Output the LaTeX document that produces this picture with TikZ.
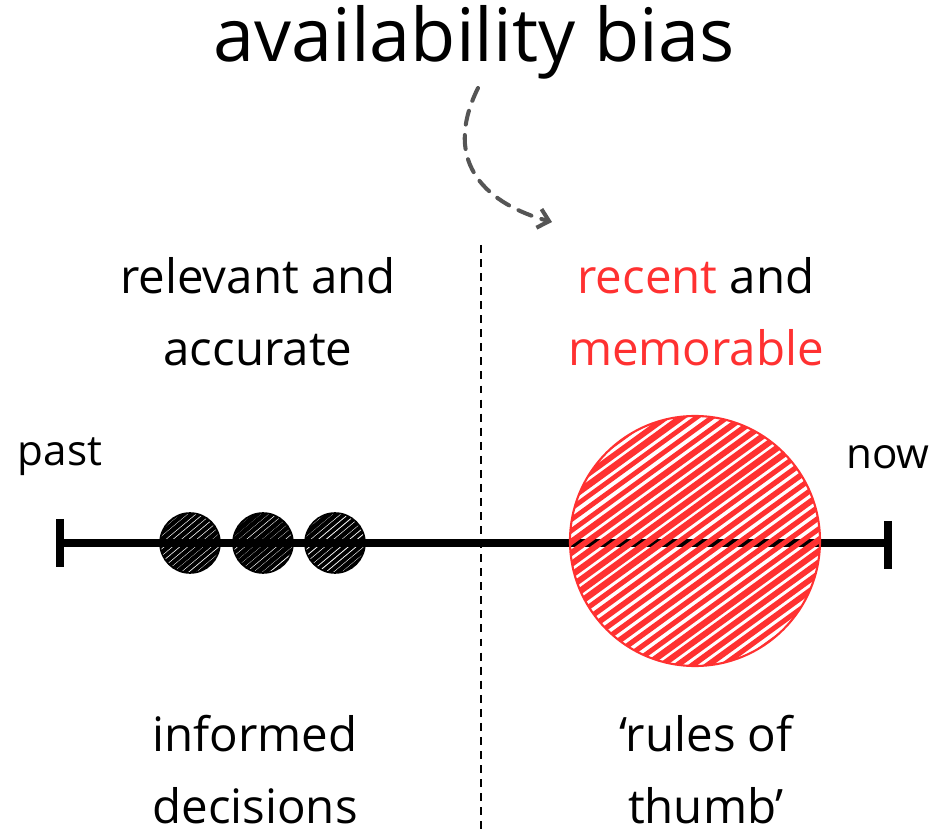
\documentclass[tikz,border=0pt]{standalone}
\usepackage{fontspec}
\setmainfont{Open Sans}
\usetikzlibrary{arrows.meta,positioning}
\definecolor{hotred}{HTML}{FF3131}
\definecolor{curlgray}{HTML}{555555}

\begin{document}
\begin{tikzpicture}[x=0.02cm,y=-0.02cm,
    label/.style={font=\fontsize{27}{41}\selectfont,align=center},
    endlabel/.style={font=\fontsize{24}{30}\selectfont},
    timeline/.style={line width=4pt,line cap=round},
    endtick/.style={line width=4pt},
    streak/.style={line width=#1},
    curl/.style={curlgray,line width=2.3pt,line cap=round,dash pattern=on 8pt off 6pt,
      -{Straight Barb[length=6pt,width=11pt,line width=2.3pt]}}]
  \useasboundingbox (0,0) rectangle (941,834);
  \pgfmathsetseed{11}

  % title and curly arrow
  \node[font=\fontsize{42}{50}\selectfont] (title) at (474,42) {availability bias};
  \coordinate (from) at (478,88);
  \coordinate (to) at (552,222);
  \draw[curl] (from) .. controls (440,165) and (490,205) .. (to);

  % divider
  \coordinate (top) at (481,245);
  \coordinate (bottom) at (481,834);
  \draw[dash pattern=on 4.5pt off 3.5pt,line width=0.8pt] (top) -- (bottom);

  % labels
  \node[label] (relevant) at (258,312) {relevant and\\accurate};
  \node[label] (recent) at (696,312) {{\color{hotred}recent} and\\{\color{hotred}memorable}};
  \node[label] (informed) at (255,770) {informed\\decisions};
  \node[label] (rules) at (706,770) {‘rules of\\thumb’};
  \node[endlabel] (past) at (60,457) {past};
  \node[endlabel] (now) at (888,457) {now};

  % timeline
  \coordinate (pastend) at (60,543);
  \coordinate (nowend) at (888,543);
  \draw[timeline] (pastend) -- (nowend);
  \draw[endtick] (pastend) ++(0,-24) -- ++(0,48);
  \draw[endtick] (nowend) ++(0,-22) -- ++(0,48);

  % small black memories
  \foreach \cx in {190,263,335} {
    \begin{scope}
      \clip (\cx,543) circle (30);
      \foreach \o in {-36,-31,...,36} {
        \pgfmathsetmacro\w{2.1+0.8*rnd}
        \draw[streak=\w pt,shift={(\cx,543)},rotate=40] (-45,\o) -- (45,\o);
      }
    \end{scope}
    \draw[line width=0.9pt] (\cx,543) circle (30);
  }

  % big red memory
  \begin{scope}
    \clip (695,541) circle (125);
    \foreach \o in {-135,-126,...,135} {
      \pgfmathsetmacro\w{2.6+1.3*rnd}
      \draw[hotred,streak=\w pt,shift={(695,541)},rotate=36] (-150,\o) -- (150,\o);
    }
  \end{scope}
  \draw[hotred,line width=1.2pt] (695,541) circle (125);
\end{tikzpicture}
\end{document}
